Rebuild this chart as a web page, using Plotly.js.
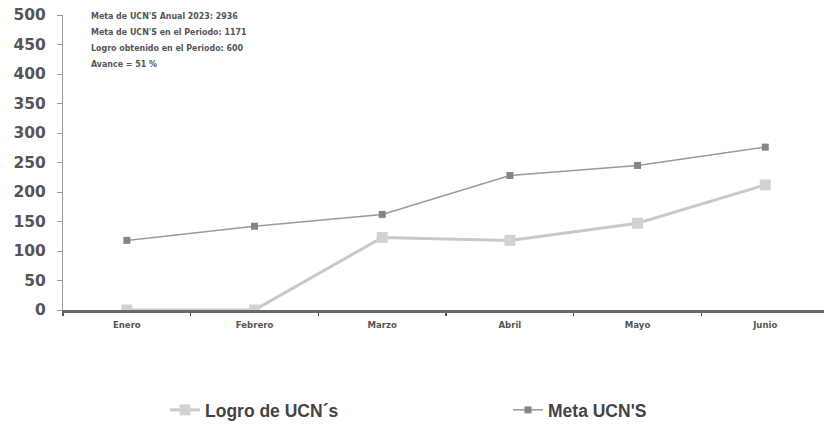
<!DOCTYPE html>
<html><head><meta charset="utf-8">
<script src="https://cdn.plot.ly/plotly-3.0.1.min.js"></script>
<style>html,body{margin:0;padding:0;background:#fff;}</style>
</head><body>
<div id="chart" style="width:824px;height:428px;"></div>
<script>
var months = ["Enero","Febrero","Marzo","Abril","Mayo","Junio"];
var logro = [0, 0, 123, 118, 147, 212];
var meta = [118, 142, 162, 228, 245, 276];
var yTicks = [0,50,100,150,200,250,300,350,400,450,500];
var notes = [
  "Meta de UCN'S Anual 2023: 2936",
  "Meta de UCN'S en el Periodo: 1171",
  "Logro obtenido en el Periodo: 600",
  "Avance = 51 %"
];

var traces = [
  {x: months, y: logro, name: "Logro de UCN´s", type: "scatter", mode: "lines+markers", legend: "legend",
   line: {color: "#c9c9c9", width: 3}, marker: {symbol: "square", size: 11, color: "#d2d2d2"}},
  {x: months, y: meta, name: "Meta UCN'S", type: "scatter", mode: "lines+markers", legend: "legend2",
   line: {color: "#9a9a9a", width: 1.5}, marker: {symbol: "square", size: 7, color: "#858585"}}
];

var legFont = {family: "Liberation Sans, Arial, sans-serif", size: 17.5, color: "#444", weight: "bold"};
var layout = {
  width: 824, height: 428,
  margin: {l: 63, r: 0, t: 15, b: 118},
  paper_bgcolor: "#fff", plot_bgcolor: "#fff",
  showlegend: true,
  legend: {orientation: "h", x: (165-63)/761, xanchor: "left", y: -0.34, yanchor: "middle", font: legFont},
  legend2: {orientation: "h", x: (508-63)/761, xanchor: "left", y: -0.34, yanchor: "middle", font: legFont},
  xaxis: {type: "category", range: [-0.5, 5.46], showgrid: false, zeroline: false,
    showline: true, linecolor: "#6a6a6a", linewidth: 3,
    ticks: "outside", tickson: "boundaries", ticklen: 3, tickcolor: "#555", tickwidth: 1.5,
    ticklabelstandoff: 4,
    tickfont: {family: "DejaVu Sans Condensed, sans-serif", size: 9.5, color: "#555", weight: "bold"}},
  yaxis: {range: [0, 500], tickvals: yTicks, showgrid: false, zeroline: false,
    showline: true, linecolor: "#999", linewidth: 1, ticks: "outside", ticklen: 5, tickcolor: "#999",
    ticklabelstandoff: 8,
    tickfont: {family: "DejaVu Sans, sans-serif", size: 15.5, color: "#555", weight: "bold"}},
  annotations: notes.map(function(t, i){
    return {text: "<b>" + t + "</b>", xref: "paper", yref: "paper", x: (89-63)/761, xanchor: "left",
      y: (310 - (16 + i*16)) / 295, yanchor: "middle", showarrow: false,
      font: {family: "DejaVu Sans Condensed, sans-serif", size: 8.8, color: "#555"}};
  })
};

Plotly.newPlot("chart", traces, layout, {displayModeBar: false, staticPlot: true});
</script>
</body></html>
